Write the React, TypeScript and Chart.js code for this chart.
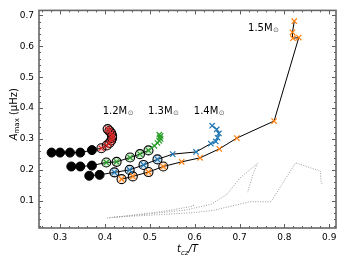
import React, { useEffect, useRef } from "react";
import { Chart, registerables } from "chart.js";
Chart.register(...registerables);

const xTicks = [0.3, 0.4, 0.5, 0.6, 0.7, 0.8, 0.9];
const yTicks = [0.1, 0.2, 0.3, 0.4, 0.5, 0.6, 0.7];

const m12Filled = [[0.281, 0.256], [0.300, 0.256], [0.322, 0.256], [0.345, 0.256], [0.371, 0.264]];
const m12Ring = [[0.392, 0.270], [0.404, 0.279], [0.410, 0.287], [0.414, 0.295], [0.416, 0.303], [0.416, 0.311], [0.414, 0.319], [0.410, 0.326], [0.406, 0.332]];

const m13Filled = [[0.325, 0.211], [0.345, 0.211], [0.371, 0.214]];
const m13Ring = [[0.403, 0.224], [0.426, 0.226], [0.456, 0.240], [0.478, 0.251], [0.497, 0.263]];
const m13Tail = [[0.510, 0.278], [0.517, 0.287], [0.521, 0.294], [0.524, 0.300], [0.522, 0.305], [0.524, 0.310], [0.521, 0.314]];

const m14Filled = [[0.365, 0.181], [0.388, 0.184]];
const m14Ring = [[0.421, 0.192], [0.455, 0.200], [0.486, 0.216], [0.517, 0.234]];
const m14Cross = [[0.551, 0.251], [0.603, 0.258], [0.636, 0.285]];
const m14Tail = [[0.647, 0.292], [0.651, 0.304], [0.654, 0.318], [0.649, 0.331], [0.639, 0.343]];

const m15Ring = [[0.437, 0.170], [0.462, 0.179], [0.497, 0.193], [0.530, 0.211]];
const m15Cross = [[0.571, 0.226], [0.612, 0.239], [0.655, 0.268], [0.694, 0.303], [0.777, 0.358], [0.832, 0.628], [0.819, 0.626], [0.818, 0.645], [0.822, 0.681]];

const gray1 = [[0.404, 0.044], [0.47, 0.055], [0.54, 0.068], [0.597, 0.083], [0.598, 0.088]];
const gray2 = [[0.410, 0.045], [0.50, 0.058], [0.58, 0.070], [0.637, 0.089], [0.672, 0.121], [0.701, 0.174], [0.740, 0.221], [0.731, 0.190], [0.718, 0.128]];
const gray3 = [[0.420, 0.047], [0.52, 0.055], [0.60, 0.062], [0.641, 0.069], [0.723, 0.097], [0.770, 0.097], [0.825, 0.223], [0.880, 0.196], [0.882, 0.160], [0.884, 0.155]];

const massLabels = ["1.2", "1.3", "1.4", "1.5"];
const labelX = [0.395, 0.496, 0.598, 0.719];
const labelY = [0.39, 0.39, 0.39, 0.659];

const BLUE = "#1f77b4";
const ORANGE = "#ff7f0e";
const GREEN = "#2ca02c";
const RED = "#d62728";
const FONT = "'DejaVu Sans', sans-serif";

const pts = (a: number[][]) => a.map(([x, y]) => ({ x, y }));
const tint = (hex: string, a: number) => {
  const n = parseInt(hex.slice(1), 16);
  return `rgba(${(n >> 16) & 255},${(n >> 8) & 255},${n & 255},${a})`;
};

const lineDs = (data: number[][]) => ({
  data: pts(data), showLine: true, borderColor: "#000", borderWidth: 1, pointRadius: 0, order: 5,
});
const filledDs = (data: number[][]) => ({
  data: pts(data), showLine: false, pointStyle: "circle", pointRadius: 4.5,
  backgroundColor: "#000", borderColor: "#000", borderWidth: 1, order: 3,
});
const ringDs = (data: number[][], color: string) => ({
  data: pts(data), showLine: false, pointStyle: "circle", pointRadius: 4.5,
  backgroundColor: tint(color, 0.2), borderColor: "#000", borderWidth: 1.1, order: 3,
});
const crossDs = (data: number[][], color: string, line = false, r = 3.8) => ({
  data: pts(data), showLine: line, pointStyle: "crossRot", pointRadius: r,
  borderColor: color, backgroundColor: color, borderWidth: 1.2, order: 1,
});
const grayDs = (data: number[][]) => ({
  data: pts(data), showLine: true, borderColor: "#9a9a9a", borderWidth: 1, borderDash: [1, 1.5],
  pointRadius: 0, order: 10,
});

const decorPlugin = {
  id: "decor",
  afterDraw(chart: any) {
    const ctx = chart.ctx;
    const xs = chart.scales.x;
    const ys = chart.scales.y;
    const { left, right, top, bottom } = chart.chartArea;
    ctx.save();
    ctx.strokeStyle = "#333";
    ctx.lineWidth = 0.8;
    const drawX = (v: number, len: number) => {
      const p = Math.round(xs.getPixelForValue(v)) + 0.5;
      if (p < left || p > right) return;
      ctx.beginPath();
      ctx.moveTo(p, bottom); ctx.lineTo(p, bottom - len);
      ctx.moveTo(p, top); ctx.lineTo(p, top + len);
      ctx.stroke();
    };
    const drawY = (v: number, len: number) => {
      const p = Math.round(ys.getPixelForValue(v)) + 0.5;
      if (p < top || p > bottom) return;
      ctx.beginPath();
      ctx.moveTo(left, p); ctx.lineTo(left + len, p);
      ctx.moveTo(right, p); ctx.lineTo(right - len, p);
      ctx.stroke();
    };
    for (let i = 13; i <= 46; i++) drawX(i * 0.02, i % 5 === 0 ? 4 : 2);
    for (let i = 1; i <= 35; i++) drawY(i * 0.02, i % 5 === 0 ? 4 : 2);
    ctx.strokeStyle = "#666";
    ctx.lineWidth = 1.6;
    ctx.strokeRect(left, top, right - left, bottom - top);

    ctx.fillStyle = "#000";
    ctx.textBaseline = "middle";
    ctx.textAlign = "left";
    massLabels.forEach((m, i) => {
      const px = xs.getPixelForValue(labelX[i]);
      const py = ys.getPixelForValue(labelY[i]);
      ctx.font = `10px ${FONT}`;
      const t = m + "M";
      ctx.fillText(t, px, py);
      const w = ctx.measureText(t).width;
      ctx.font = `7px ${FONT}`;
      ctx.fillStyle = "#666";
      ctx.fillText("\u2299", px + w + 0.5, py + 2.5);
      ctx.fillStyle = "#000";
    });

    {
      const cx = (left + right) / 2;
      const cy = 249;
      ctx.textBaseline = "alphabetic";
      const parts = [
        { t: "t", f: `italic 10px ${FONT}`, dy: 0 },
        { t: "cz", f: `italic 7px ${FONT}`, dy: 2.5 },
        { t: "/T", f: `italic 10px ${FONT}`, dy: 0 },
      ];
      let total = 0;
      parts.forEach((p) => { ctx.font = p.f; total += ctx.measureText(p.t).width; });
      let x = cx - total / 2;
      parts.forEach((p) => {
        ctx.font = p.f; ctx.fillText(p.t, x, cy + 3 + p.dy); x += ctx.measureText(p.t).width;
      });
    }
    {
      ctx.translate(13, (top + bottom) / 2 - 5);
      ctx.rotate(-Math.PI / 2);
      ctx.textBaseline = "alphabetic";
      const parts = [
        { t: "A", f: `italic 10px ${FONT}`, dy: 0 },
        { t: "max", f: `7px ${FONT}`, dy: 2.5 },
        { t: " (\u03bcHz)", f: `10px ${FONT}`, dy: 0 },
      ];
      let total = 0;
      parts.forEach((p) => { ctx.font = p.f; total += ctx.measureText(p.t).width; });
      let x = -total / 2;
      parts.forEach((p) => {
        ctx.font = p.f; ctx.fillText(p.t, x, 3.5 + p.dy); x += ctx.measureText(p.t).width;
      });
    }
    ctx.restore();
  },
};

export default function App() {
  const ref = useRef<HTMLCanvasElement | null>(null);
  useEffect(() => {
    if (!ref.current) return;
    const m13TailLine = [m13Ring[m13Ring.length - 1], ...m13Tail];
    const m14TailLine = [m14Cross[m14Cross.length - 1], ...m14Tail];
    const chart = new Chart(ref.current, {
      type: "scatter",
      data: {
        datasets: [
          grayDs(gray1), grayDs(gray2), grayDs(gray3),
          lineDs([...m12Filled, ...m12Ring]),
          lineDs([...m13Filled, ...m13Ring]),
          lineDs([...m14Filled, ...m14Ring, ...m14Cross]),
          lineDs([...m15Ring, ...m15Cross]),
          filledDs(m12Filled), filledDs(m13Filled), filledDs(m14Filled),
          ringDs(m12Ring, RED), ringDs(m13Ring, GREEN), ringDs(m14Ring, BLUE), ringDs(m15Ring, ORANGE),
          crossDs(m12Ring, RED), crossDs(m13Ring, GREEN), crossDs(m14Ring, BLUE), crossDs(m15Ring, ORANGE),
          { ...crossDs(m13TailLine, GREEN, true), pointRadius: m13TailLine.map((_, i) => (i === 0 ? 0 : 3.8)) },
          { ...crossDs(m14TailLine, BLUE, true), pointRadius: m14TailLine.map((_, i) => (i === 0 ? 0 : 3.8)) },
          crossDs(m14Cross, BLUE),
          crossDs(m15Cross, ORANGE),
        ] as any,
      },
      options: {
        animation: false,
        responsive: false,
        maintainAspectRatio: false,
        layout: { padding: { left: 0, right: 7, top: 5, bottom: 0 } },
        plugins: { legend: { display: false }, tooltip: { enabled: false } },
        scales: {
          x: {
            type: "linear", min: 0.253, max: 0.915,
            grid: { display: false, drawTicks: false },
            border: { display: false },
            ticks: { padding: 4, color: "#000", font: { family: FONT, size: 9 }, callback: (v: any) => Number(v).toFixed(1) },
            afterBuildTicks: (s: any) => { s.ticks = xTicks.map((v) => ({ value: v })); },
            afterFit: (s: any) => { s.height = 32; },
          },
          y: {
            type: "linear", min: 0.012, max: 0.716,
            grid: { display: false, drawTicks: false },
            border: { display: false },
            ticks: { padding: 5, color: "#000", font: { family: FONT, size: 9 }, callback: (v: any) => Number(v).toFixed(1) },
            afterBuildTicks: (s: any) => { s.ticks = yTicks.map((v) => ({ value: v })); },
            afterFit: (s: any) => { s.width = 39; },
          },
        },
      } as any,
      plugins: [decorPlugin],
    });
    return () => chart.destroy();
  }, []);
  return (
    <div style={{ position: "fixed", left: 0, top: 0, width: 343, height: 260, background: "#fff" }}>
      <canvas ref={ref} width={343} height={260} style={{ display: "block" }} />
    </div>
  );
}
